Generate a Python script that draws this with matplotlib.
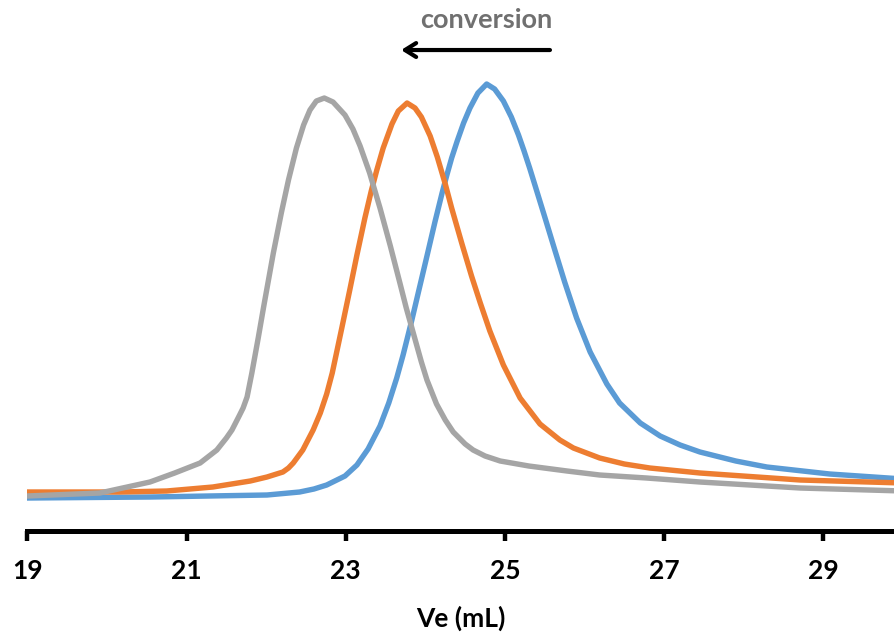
import matplotlib
matplotlib.use("Agg")
import matplotlib.pyplot as plt

plt.rcParams['font.family'] = ['Lato', 'DejaVu Sans']

# SEC traces (elution volume in mL, RI signal in a.u.)
ve_blue = [19.0, 20.54, 22.01, 22.42, 22.6, 22.76, 22.99, 23.14, 23.28, 23.43,
           23.54, 23.64, 23.72, 23.78, 23.83, 23.91, 24.02, 24.12, 24.21, 24.27,
           24.33, 24.40, 24.48, 24.56, 24.66, 24.77, 24.87, 24.98, 25.08, 25.17,
           25.24, 25.31, 25.38, 25.50, 25.63, 25.75, 25.90, 26.07, 26.28, 26.44,
           26.70, 26.95, 27.2, 27.45, 27.9, 28.29, 29.08, 30.0]
sig_blue = [0, 1, 3, 6, 9, 13, 22, 33, 49, 72,
            95, 120, 143, 162, 178, 205, 242, 276, 305, 323,
            340, 357, 375, 390, 405, 414, 409, 397, 381, 363,
            347, 330, 312, 281, 247, 216, 180, 146, 114, 95,
            75, 62, 53, 46, 37, 31, 24, 19]

ve_orange = [19.0, 20.16, 20.75, 21.33, 21.80, 22.01, 22.21, 22.28, 22.34, 22.46,
             22.59, 22.68, 22.76, 22.83, 22.95, 23.05, 23.14, 23.24, 23.32, 23.39,
             23.47, 23.58, 23.66, 23.77, 23.87, 23.95, 24.06, 24.15, 24.25, 24.33,
             24.46, 24.58, 24.69, 24.81, 24.98, 25.19, 25.44, 25.69, 25.86, 26.19,
             26.5, 26.82, 27.45, 28.71, 30.0]
sig_orange = [6, 6, 7, 11, 17, 21, 26, 30, 35, 48,
              68, 85, 104, 125, 170, 208, 243, 280, 307, 328,
              350, 374, 387, 395, 390, 381, 362, 341, 314, 290,
              254, 222, 195, 167, 133, 100, 74, 58, 50, 40,
              34, 30, 25, 18, 15]

ve_gray = [19.0, 19.91, 20.54, 20.85, 21.17, 21.38, 21.50, 21.57, 21.66, 21.71,
           21.76, 21.82, 21.90, 21.97, 22.09, 22.19, 22.28, 22.38, 22.47, 22.55,
           22.63, 22.73, 22.84, 22.99, 23.09, 23.18, 23.30, 23.43, 23.56, 23.68,
           23.76, 23.82, 23.95, 24.02, 24.14, 24.25, 24.35, 24.50, 24.60, 24.75,
           24.94, 25.30, 25.78, 26.19, 26.78, 27.45, 28.71, 30.0]
sig_gray = [2, 5, 16, 25, 35, 48, 60, 68, 82, 90,
            101, 125, 160, 192, 245, 285, 318, 350, 373, 388,
            397, 400, 396, 383, 369, 352, 325, 290, 252, 215,
            190, 173, 136, 118, 94, 78, 66, 54, 48, 42,
            37, 32, 27, 23, 20, 16, 10, 7]

xticks = [19, 21, 23, 25, 27, 29]

fig = plt.figure(figsize=(8.95, 6.32), dpi=100)
ax = fig.add_axes([0.0306, 0.1598, 0.9694, 0.7294])

ax.plot(ve_blue, sig_blue, color='#5B9BD5', lw=3.9, solid_joinstyle='round')
ax.plot(ve_orange, sig_orange, color='#ED7D31', lw=3.9, solid_joinstyle='round')
ax.plot(ve_gray, sig_gray, color='#A5A5A5', lw=3.9, solid_joinstyle='round')

ax.set_xlim(19, 29.9)
ax.set_ylim(-33, 428)

for side in ('left', 'right', 'top'):
    ax.spines[side].set_visible(False)
ax.spines['bottom'].set_linewidth(3.6)
ax.set_yticks([])
ax.set_xticks(xticks)
ax.set_xticklabels([str(t) for t in xticks], fontsize=19, fontweight='bold')
ax.tick_params(axis='x', direction='out', length=7.5, width=3.2, pad=13)
ax.set_xlabel('Ve (mL)', fontsize=19, fontweight='bold', labelpad=16)

# "conversion" arrow pointing toward lower Ve
ax.annotate('', xy=(23.66, 448), xytext=(25.60, 448),
            arrowprops=dict(arrowstyle='->,head_length=0.8,head_width=0.5',
                            lw=3, color='black'),
            annotation_clip=False)
ax.text(24.77, 470, 'conversion', ha='center', va='baseline',
        fontsize=19.5, fontweight='bold', color='#707070', clip_on=False)

fig.savefig('out.png', dpi=100)
